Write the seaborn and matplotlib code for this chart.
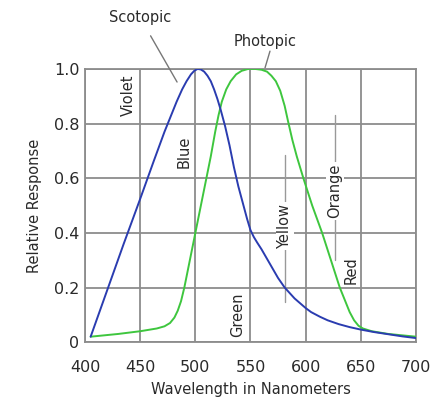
import matplotlib
matplotlib.use("Agg")
import matplotlib.pyplot as plt
import seaborn as sns
import pandas as pd

# Scotopic (rod) response
scot_wl = [405, 420, 435, 450, 462, 472, 478, 483, 488, 492, 496, 499, 502, 505, 508, 511, 514, 517,
           520, 523, 527, 531, 535, 539, 543, 547, 550, 553, 556, 560, 565, 570, 575, 581, 590, 600,
           605, 613, 620, 630, 640, 650, 662, 675, 688, 700]
scot_val = [0.02, 0.19, 0.36, 0.525, 0.66, 0.77, 0.83, 0.88, 0.925, 0.955, 0.98, 0.993, 1.0, 0.998, 0.99, 0.975, 0.955, 0.925,
            0.89, 0.85, 0.79, 0.72, 0.64, 0.57, 0.51, 0.45, 0.41, 0.385, 0.365, 0.34, 0.305, 0.27, 0.235, 0.2, 0.16, 0.125,
            0.11, 0.093, 0.08, 0.066, 0.055, 0.046, 0.037, 0.029, 0.021, 0.015]

# Photopic (cone) response
phot_wl = [405, 430, 450, 465, 472, 477, 481, 484, 487, 490, 494, 498, 502, 506, 510, 514, 518, 521, 524,
           528, 532, 537, 542, 548, 554, 560, 565, 569, 573, 577, 581, 584, 588, 592, 598, 606, 615, 623,
           631, 636, 640, 644, 648, 652, 660, 675, 700]
phot_val = [0.02, 0.03, 0.04, 0.05, 0.058, 0.07, 0.09, 0.115, 0.15, 0.2, 0.28, 0.36, 0.44, 0.52, 0.6, 0.68, 0.77, 0.83, 0.88,
            0.925, 0.955, 0.98, 0.993, 1.0, 1.0, 0.997, 0.99, 0.975, 0.955, 0.92, 0.865, 0.81, 0.74, 0.68, 0.6, 0.5, 0.4, 0.3,
            0.2, 0.15, 0.11, 0.08, 0.06, 0.05, 0.04, 0.03, 0.02]

x_ticks = [400, 450, 500, 550, 600, 650, 700]
y_ticks = [0, 0.2, 0.4, 0.6, 0.8, 1.0]
y_tick_labels = ["0", "0.2", "0.4", "0.6", "0.8", "1.0"]

color_names = ["Violet", "Blue", "Green", "Yellow", "Orange", "Red"]
color_x = [439, 490, 538.7, 581.3, 626.6, 641]
color_y = [0.905, 0.696, 0.099, 0.425, 0.553, 0.264]

sns.set_theme(style="white")
plt.rcParams["font.family"] = ["DejaVu Sans"]
TXT = "#2a2a2a"
GRID = "#8c8c8c"

scot = pd.DataFrame({"wl": scot_wl, "val": scot_val})
phot = pd.DataFrame({"wl": phot_wl, "val": phot_val})

fig = plt.figure(figsize=(4.3, 4.03), dpi=100)
ax = fig.add_axes([0.198, 0.151, 0.769, 0.678])

sns.lineplot(data=scot, x="wl", y="val", ax=ax, color="#2a3cb0", lw=1.4, sort=False, zorder=4)
sns.lineplot(data=phot, x="wl", y="val", ax=ax, color="#3ec63e", lw=1.4, sort=False, zorder=3)

ax.set_xlim(400, 700)
ax.set_ylim(0, 1.0)
ax.set_xticks(x_ticks)
ax.set_xticklabels([str(v) for v in x_ticks])
ax.set_yticks(y_ticks)
ax.set_yticklabels(y_tick_labels)
ax.grid(True, color=GRID, lw=1.3)
for s in ax.spines.values():
    s.set_color(GRID)
    s.set_linewidth(1.3)
ax.tick_params(axis="x", length=0, pad=13, labelsize=11.5, labelcolor=TXT)
ax.tick_params(axis="y", length=0, pad=4, labelsize=11.5, labelcolor=TXT)
ax.set_xlabel("Wavelength in Nanometers", fontsize=10.5, color=TXT, labelpad=5)
ax.set_ylabel("Relative Response", fontsize=10.5, color=TXT, labelpad=9)

# Curve labels
ax.annotate("Scotopic", xy=(483.4, 0.952), xytext=(450, 1.187), textcoords="data",
            ha="center", va="center", fontsize=10.5, color=TXT, annotation_clip=False,
            arrowprops=dict(arrowstyle="-", color="#777777", lw=1, shrinkA=6, shrinkB=0))
ax.text(563.5, 1.099, "Photopic", ha="center", va="center", fontsize=10.5, color=TXT, clip_on=False)
ax.plot([567.7, 563.2], [1.065, 1.004], color="#777777", lw=1, clip_on=False)

# vertical guide lines for Yellow and Orange
ax.plot([581.3, 581.3], [0.685, 0.147], color="#999999", lw=1, zorder=2)
ax.plot([626.6, 626.6], [0.831, 0.3], color="#999999", lw=1, zorder=2)

for name, cx, cy in zip(color_names, color_x, color_y):
    ax.text(cx, cy, name, rotation=90, ha="center", va="center", fontsize=10.5, color=TXT, zorder=5,
            bbox=dict(facecolor="white", edgecolor="none", pad=1.2))

fig.savefig("out.png", dpi=100)
